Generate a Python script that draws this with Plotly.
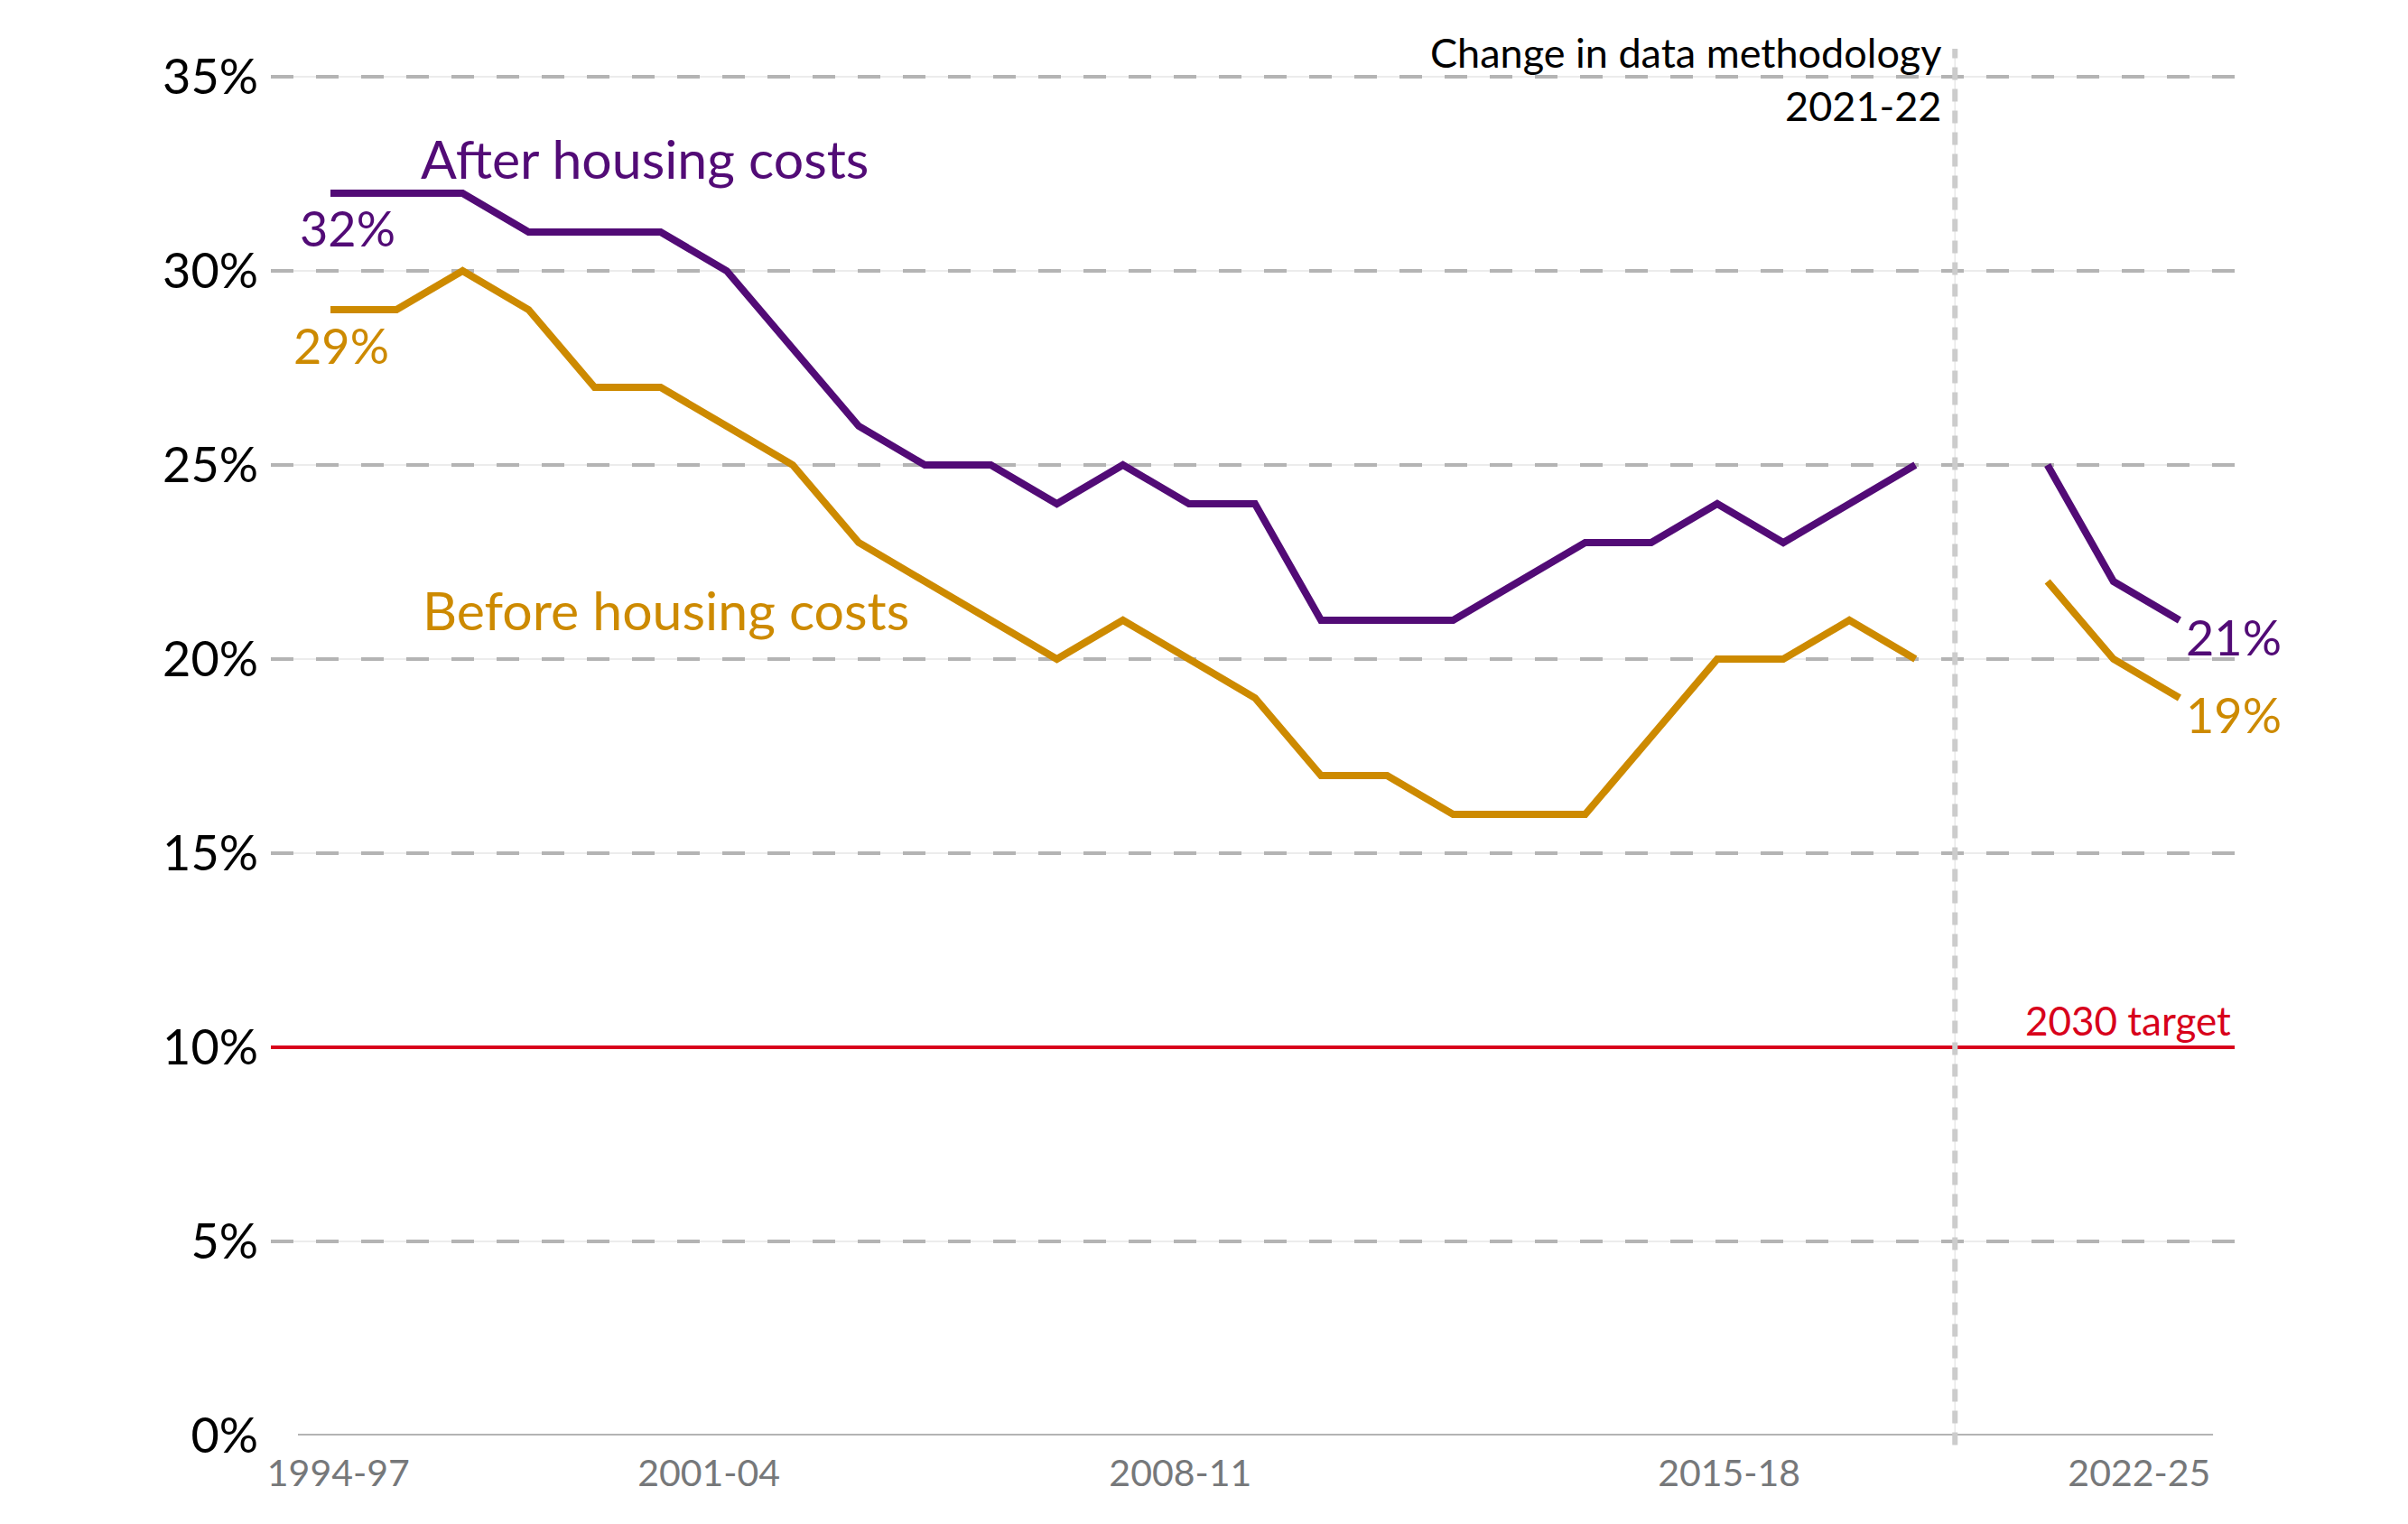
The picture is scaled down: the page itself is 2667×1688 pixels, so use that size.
import plotly.graph_objects as go

# ---------------- data ----------------
PERIODS = ["1994-97", "1995-98", "1996-99", "1997-00", "1998-01", "1999-02", "2000-03",
           "2001-04", "2002-05", "2003-06", "2004-07", "2005-08", "2006-09", "2007-10",
           "2008-11", "2009-12", "2010-13", "2011-14", "2012-15", "2013-16", "2014-17",
           "2015-18", "2016-19", "2017-20", "2018-21", "2019-22", "2020-23", "2021-24",
           "2022-25"]
AFTER_HC = [32, 32, 32, 31, 31, 31, 30, 28, 26, 25, 25, 24, 25, 24, 24, 21, 21, 21, 22,
            23, 23, 24, 23, 24, 25, None, 25, 22, 21]
BEFORE_HC = [29, 29, 30, 29, 27, 27, 26, 25, 23, 22, 21, 20, 21, 20, 19, 17, 17, 16, 16,
             16, 18, 20, 20, 21, 20, None, 22, 20, 19]
TARGET = 10
TICK_LABELS = ["1994-97", "2001-04", "2008-11", "2015-18", "2022-25"]
Y_TICKS = [0, 5, 10, 15, 20, 25, 30, 35]
Y_TICK_TEXT = ["0%", "5%", "10%", "15%", "20%", "25%", "30%", "35%"]

# ---------------- layout helpers (positions, not data) ----------------
X = list(range(len(PERIODS)))
TICK_POS = [0.12, 5.73, 12.87, 21.18, 27.39]
METHOD_X = 24.6

PURPLE = "#520b76"
GOLD = "#cd8a00"
RED = "#d8001b"
FONT = "Lato"

fig = go.Figure()

fig.add_trace(go.Scatter(x=X, y=AFTER_HC, customdata=PERIODS, mode="lines",
                         name="After housing costs", connectgaps=False,
                         line=dict(color=PURPLE, width=8),
                         hovertemplate="%{customdata}: %{y}%<extra></extra>"))
fig.add_trace(go.Scatter(x=X, y=BEFORE_HC, customdata=PERIODS, mode="lines",
                         name="Before housing costs", connectgaps=False,
                         line=dict(color=GOLD, width=8),
                         hovertemplate="%{customdata}: %{y}%<extra></extra>"))
# empty traces so the overlay axes exist
fig.add_trace(go.Scatter(x=[None], y=[None], yaxis="y2", showlegend=False, hoverinfo="skip"))
fig.add_trace(go.Scatter(x=[None], y=[None], yaxis="y3", showlegend=False, hoverinfo="skip"))

yr = [0, 35.07]
fig.update_layout(
    width=2667, height=1688,
    margin=dict(l=300, r=192, t=82, b=98),
    paper_bgcolor="white", plot_bgcolor="white",
    showlegend=False,
    font=dict(family=FONT, color="#000000"),
    xaxis=dict(range=[-0.9024, 28.835], tickmode="array", tickvals=TICK_POS,
               ticktext=TICK_LABELS, tickfont=dict(size=41, color="#76787a", family=FONT),
               showgrid=False, zeroline=False, showline=False, ticks="",
               ticklabelstandoff=14, fixedrange=True),
    yaxis=dict(range=yr, tickmode="array", tickvals=Y_TICKS[1:], showticklabels=False,
               showgrid=True, gridcolor="#ececec", gridwidth=2, zeroline=False,
               showline=False, ticks=""),
    yaxis2=dict(range=yr, overlaying="y", tickmode="array", tickvals=Y_TICKS[1:],
                showticklabels=False, showgrid=True, gridcolor="#b4b4b4", gridwidth=3.5,
                griddash="25px,25px", zeroline=False, showline=False, ticks=""),
    yaxis3=dict(range=yr, overlaying="y", tickmode="array", tickvals=Y_TICKS,
                ticktext=Y_TICK_TEXT, tickfont=dict(size=54, color="#000000", family=FONT),
                showgrid=False, zeroline=False, showline=False, ticks="",
                ticklabelstandoff=13),
)

# baseline
fig.add_shape(type="line", xref="paper", yref="y", x0=0.0138, x1=0.989, y0=0, y1=0,
              line=dict(color="#b4b4b4", width=4))
# 2030 target line
fig.add_shape(type="line", xref="paper", yref="y", x0=0, x1=1, y0=TARGET, y1=TARGET,
              line=dict(color=RED, width=4))
# methodology change line
fig.add_shape(type="line", xref="x", yref="paper", x0=METHOD_X, x1=METHOD_X,
              y0=-0.007, y1=1.0186, line=dict(color="#e8e8e8", width=1.5))
fig.add_shape(type="line", xref="x", yref="paper", x0=METHOD_X, x1=METHOD_X,
              y0=-0.007, y1=1.0186, line=dict(color="#cccccc", width=6, dash="14px,10px"))

ann = []
ann.append(dict(x=1.34, y=32.9, xref="x", yref="y", text="After housing costs",
                xanchor="left", yanchor="middle", showarrow=False,
                font=dict(size=59, color=PURPLE, family=FONT)))
ann.append(dict(x=1.37, y=21.26, xref="x", yref="y", text="Before housing costs",
                xanchor="left", yanchor="middle", showarrow=False,
                font=dict(size=59, color=GOLD, family=FONT)))
ann.append(dict(x=0, y=AFTER_HC[0], xref="x", yref="y", text=f"{AFTER_HC[0]}%",
                xanchor="center", yanchor="middle", xshift=19, yshift=-38, showarrow=False,
                font=dict(size=54, color=PURPLE, family=FONT)))
ann.append(dict(x=0, y=BEFORE_HC[0], xref="x", yref="y", text=f"{BEFORE_HC[0]}%",
                xanchor="center", yanchor="middle", xshift=12, yshift=-39, showarrow=False,
                font=dict(size=54, color=GOLD, family=FONT)))
ann.append(dict(x=X[-1], y=AFTER_HC[-1], xref="x", yref="y", text=f"{AFTER_HC[-1]}%",
                xanchor="right", yanchor="middle", xshift=115, yshift=-18, showarrow=False,
                font=dict(size=54, color=PURPLE, family=FONT)))
ann.append(dict(x=X[-1], y=BEFORE_HC[-1], xref="x", yref="y", text=f"{BEFORE_HC[-1]}%",
                xanchor="right", yanchor="middle", xshift=115, yshift=-18, showarrow=False,
                font=dict(size=54, color=GOLD, family=FONT)))
ann.append(dict(x=METHOD_X, y=1.035, xref="x", yref="paper",
                text="Change in data methodology<br>2021-22", align="right",
                xanchor="right", yanchor="top", xshift=-13, showarrow=False,
                font=dict(size=45, color="#000000", family=FONT)))
ann.append(dict(x=1, y=TARGET, xref="paper", yref="y", text="2030 target",
                xanchor="right", yanchor="bottom", xshift=-2, yshift=2, showarrow=False,
                font=dict(size=44, color=RED, family=FONT)))
fig.update_layout(annotations=ann)

fig.write_html("out.html")
